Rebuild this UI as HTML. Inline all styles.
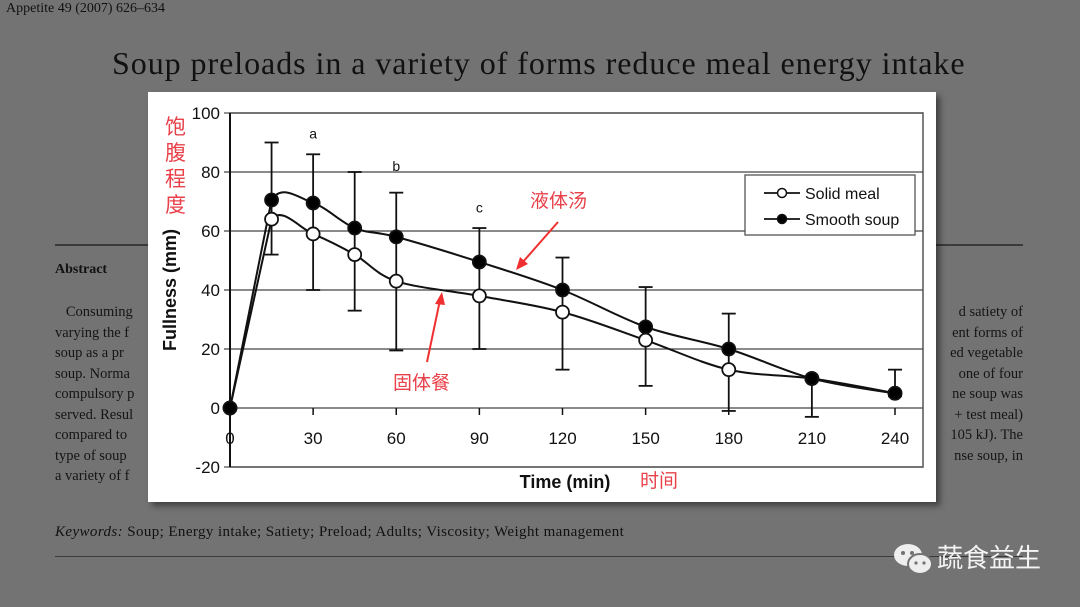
<!DOCTYPE html>
<html><head><meta charset="utf-8"><style>
body{margin:0;width:1080px;height:607px;overflow:hidden;background:#737373;position:relative;font-family:"Liberation Serif",serif;color:#111}
.t{position:absolute;white-space:nowrap}
.ab{font-size:14.5px;line-height:20.5px;color:#151515}
</style></head><body>
<div class="t" style="left:6px;top:1px;font-size:14px">Appetite 49 (2007) 626–634</div>
<div class="t" style="left:112px;top:45px;font-size:32px;letter-spacing:0.95px">Soup preloads in a variety of forms reduce meal energy intake</div>
<div class="t" style="left:55px;top:244px;width:968px;height:2px;background:#3a3a3a"></div>
<div class="t" style="left:55px;top:262px;font-size:14px;font-weight:bold">Abstract</div>
<div class="t ab" style="left:55px;top:302px">&nbsp;&nbsp;&nbsp;Consuming<br>varying the f<br>soup as a pr<br>soup. Norma<br>compulsory p<br>served. Resul<br>compared to<br>type of soup<br>a variety of f</div>
<div class="t ab" style="left:923px;top:302px;text-align:right;width:100px">d satiety of<br>ent forms of<br>ed vegetable<br>one of four<br>ne soup was<br>+ test meal)<br>105 kJ). The<br>nse soup, in</div>
<div class="t" style="left:55px;top:524px;font-size:15px;letter-spacing:0.4px"><i>Keywords:</i> Soup; Energy intake; Satiety; Preload; Adults; Viscosity; Weight management</div>
<div class="t" style="left:55px;top:556px;width:968px;height:1px;background:#3a3a3a"></div>
<div class="t" style="left:893px;top:538px;font-family:'Liberation Sans','Noto Sans CJK SC',sans-serif;font-size:26px;color:#f4f4f4">
<svg width="42" height="36" viewBox="0 0 42 36" style="vertical-align:middle"><ellipse cx="15" cy="13" rx="14" ry="11" fill="#eee"/><ellipse cx="27" cy="22" rx="12" ry="10" fill="#eee" stroke="#737373" stroke-width="2"/><circle cx="10" cy="11" r="2" fill="#737373"/><circle cx="19" cy="11" r="2" fill="#737373"/><circle cx="23" cy="21" r="1.6" fill="#737373"/><circle cx="31" cy="21" r="1.6" fill="#737373"/></svg><span style="margin-left:2px">蔬食益生</span></div>

<div class="t" style="left:148px;top:92px;width:788px;height:410px;background:#fff;box-shadow:4px 4px 6px rgba(0,0,0,.45)"></div>
<svg id="chart" class="t" style="left:0;top:0" width="1080" height="607" font-family="Liberation Sans, sans-serif"></svg>

<script>
const times=[0,15,30,45,60,90,120,150,180,210,240];
const solidMeal=[0,64,59,52,43,38,32.5,23,13,10,5];
const smoothSoup=[0,70.5,69.5,61,58,49.5,40,27.5,20,10,5];
const errTimes=[15,30,45,60,90,120,150,180,210,240];
const errLow=[52,40,33,19.5,20,13,7.5,-1,-3,4];
const errHigh=[90,86,80,73,61,51,41,32,10,13];
const yTicks=[100,80,60,40,20,0,-20];
const xTicks=[0,30,60,90,120,150,180,210,240];
const sigLabels=[["a",30,93],["b",60,82],["c",90,68]];

const NS="http://www.w3.org/2000/svg";
const svg=document.getElementById('chart');
const X=t=>230+t*(895-230)/240;
const Y=v=>408-v*2.95;
function mk(tag,a,parent){const e=document.createElementNS(NS,tag);for(const k in a)e.setAttribute(k,a[k]);(parent||svg).appendChild(e);return e;}

let f=mk('rect',{x:230,y:113,width:693,height:354,fill:'none',stroke:'#555','stroke-width':1.5});


yTicks.forEach(v=>{
  let g=mk('line',{x1:224,x2:923,y1:Y(v),y2:Y(v),stroke:v==100||v==-20?'#555':'#444','stroke-width':1.3});
  
  
  let t=mk('text',{x:220,y:Y(v)+6,'text-anchor':'end','font-size':17,fill:'#111'});t.textContent=v;
  
  
});
let ax=mk('line',{x1:230,x2:230,y1:113,y2:467,stroke:'#111','stroke-width':2});


xTicks.forEach(v=>{
  mk('line',{x1:X(v),x2:X(v),y1:408,y2:415,stroke:'#111','stroke-width':1.5});
  let t=mk('text',{x:X(v),y:444,'text-anchor':'middle','font-size':17,fill:'#111'});t.textContent=v;
  
  
});
let yt=mk('text',{transform:'translate(176,290) rotate(-90)','text-anchor':'middle','font-size':18,'font-weight':'bold',fill:'#111'});yt.textContent='Fullness (mm)';


let xt=mk('text',{x:565,y:488,'text-anchor':'middle','font-size':18,'font-weight':'bold',fill:'#111'});xt.textContent='Time (min)';


sigLabels.forEach(s=>{let t=mk('text',{x:X(s[1]),y:Y(s[2])+5,'text-anchor':'middle','font-size':14,fill:'#111'});t.textContent=s[0];
  
  });

errTimes.forEach((t,i)=>{
  let g=mk('g',{stroke:'#111','stroke-width':1.8});
  
  
  mk('line',{x1:X(t),x2:X(t),y1:Y(errLow[i]),y2:Y(errHigh[i])},g);
  mk('line',{x1:X(t)-7,x2:X(t)+7,y1:Y(errLow[i]),y2:Y(errLow[i])},g);
  mk('line',{x1:X(t)-7,x2:X(t)+7,y1:Y(errHigh[i]),y2:Y(errHigh[i])},g);
});
function spline(vals){
  const p=times.map((t,i)=>[X(t),Y(vals[i])]);
  let d='M'+p[0][0]+','+p[0][1];
  const tan=i=>{
    if(i==0||i==p.length-1)return [0,0];
    let a=p[i-1];
    if(i==1)a=[(p[0][0]+p[1][0])/2,(p[0][1]+p[1][1])/2];
    return [(p[i+1][0]-a[0])/6,(p[i+1][1]-a[1])/6];
  };
  for(let i=0;i<p.length-1;i++){
    const p1=p[i],p2=p[i+1];
    const t1=i==0?[0,0]:tan(i), t2=i==0?[0,0]:tan(i+1);
    d+=' C'+(p1[0]+t1[0])+','+(p1[1]+t1[1])+' '+(p2[0]-t2[0])+','+(p2[1]-t2[1])+' '+p2[0]+','+p2[1];
  }
  return d;
}
[[solidMeal,'solid-meal'],[smoothSoup,'smooth-soup']].forEach(([vals,nm])=>{
  let l=mk('path',{d:spline(vals),fill:'none',stroke:'#111','stroke-width':2});
  
  
});
[[solidMeal,'#fff','solid-meal'],[smoothSoup,'#000','smooth-soup']].forEach(([vals,fill,nm])=>{
  times.forEach((t,i)=>{
    let c=mk('circle',{cx:X(t),cy:Y(vals[i]),r:6.5,fill:fill,stroke:'#111','stroke-width':1.8});
    
    
  });
});
let lg=mk('g',{});


mk('rect',{x:745,y:175,width:170,height:60,fill:'#fff',stroke:'#555','stroke-width':1.3},lg);
[['Solid meal','#fff',193],['Smooth soup','#000',219]].forEach(([n,fl,y])=>{
  mk('line',{x1:764,x2:800,y1:y,y2:y,stroke:'#111','stroke-width':1.8},lg);
  mk('circle',{cx:782,cy:y,r:4.5,fill:fl,stroke:'#111','stroke-width':1.5},lg);
  let t=mk('text',{x:805,y:y+6,'font-size':16,fill:'#111'},lg);t.textContent=n;
});
const cj='Liberation Sans, Noto Sans CJK SC, sans-serif';
[['饱',165,134],['腹',165,160],['程',165,186],['度',165,212]].forEach(([c,x,y])=>{let t=mk('text',{x:x,y:y,'font-size':21,fill:'#e8414a','font-family':cj});t.textContent=c;
  
  });
let a1=mk('text',{x:530,y:207,'font-size':19,fill:'#e8414a','font-family':cj});a1.textContent='液体汤';


let a2=mk('text',{x:393,y:389,'font-size':19,fill:'#e8414a','font-family':cj});a2.textContent='固体餐';


let a3=mk('text',{x:640,y:487,'font-size':19,fill:'#e8414a','font-family':cj});a3.textContent='时间';


mk('line',{x1:558,y1:222,x2:522,y2:263,stroke:'#f03030','stroke-width':2});
mk('polygon',{points:'516,270 520,257 528,264',fill:'#f03030'});
mk('line',{x1:427,y1:362,x2:440,y2:300,stroke:'#f03030','stroke-width':2});
mk('polygon',{points:'442,292 435,304 445,305',fill:'#f03030'});
</script>
</body></html>
